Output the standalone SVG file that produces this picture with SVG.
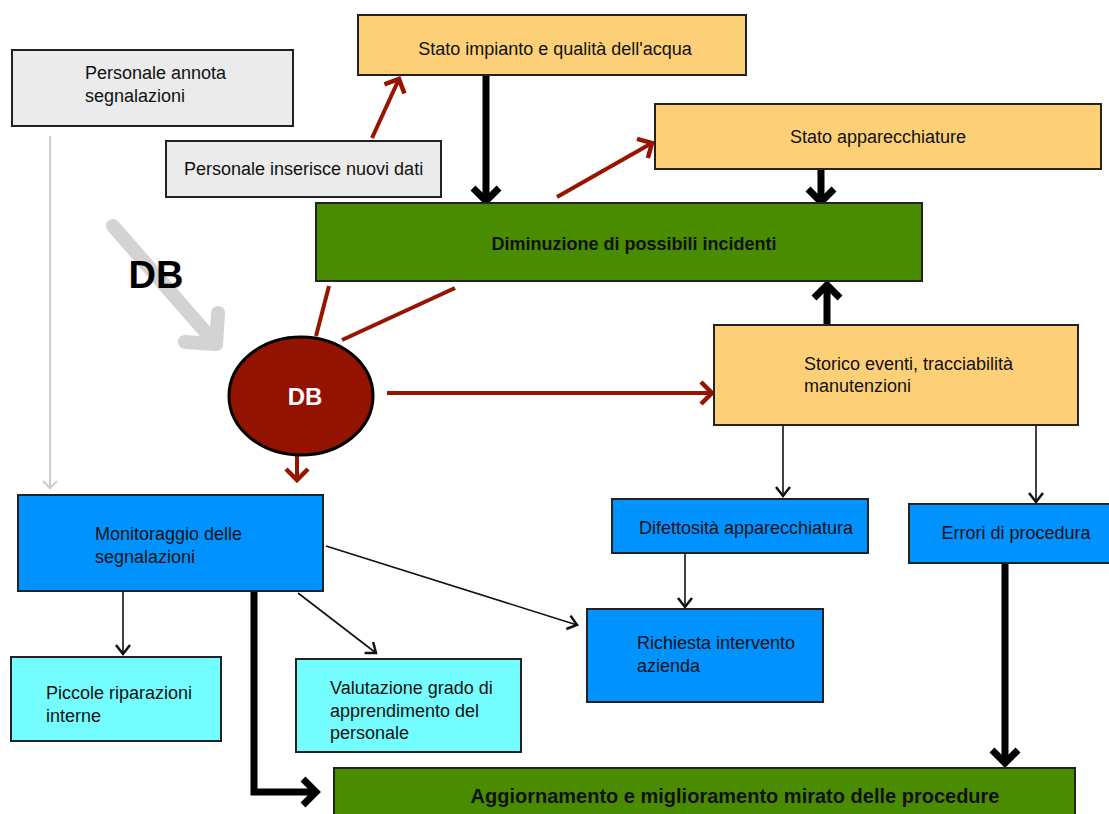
<svg xmlns="http://www.w3.org/2000/svg" width="1109" height="814" viewBox="0 0 1109 814">
<style>
.t{font-family:"Liberation Sans",Arial,sans-serif;font-size:18px;fill:#111}
.b{font-family:"Liberation Sans",Arial,sans-serif;font-size:18px;font-weight:bold;fill:#111}
.box{stroke:#222;stroke-width:2}
.gry{fill:#ebebeb}.org{fill:#fdd078}.grn{fill:#4a8c00}.blu{fill:#0092ff}.cyn{fill:#74feff}
.thin{stroke:#111;stroke-width:1.6;fill:none}
.thick{stroke:#000;stroke-width:7;fill:none}
.red{stroke:#961400;stroke-width:4;fill:none}
</style>
<defs>
<marker id="mThin" markerUnits="userSpaceOnUse" orient="auto" markerWidth="30" markerHeight="30" refX="0" refY="0" viewBox="-15 -15 30 30" overflow="visible"><path d="M-9,-7 L0,0 L-9,7" fill="none" stroke="#111" stroke-width="2.5"/></marker>
<marker id="mThick" markerUnits="userSpaceOnUse" orient="auto" markerWidth="40" markerHeight="40" refX="0" refY="0" viewBox="-20 -20 40 40" overflow="visible"><path d="M-13,-13 L0,0 L-13,13" fill="none" stroke="#000" stroke-width="7"/></marker>
<marker id="mRed" markerUnits="userSpaceOnUse" orient="auto" markerWidth="40" markerHeight="40" refX="0" refY="0" viewBox="-20 -20 40 40" overflow="visible"><path d="M-11,-11 L0,0 L-11,11" fill="none" stroke="#961400" stroke-width="4.5"/></marker>
<marker id="mGray" markerUnits="userSpaceOnUse" orient="auto" markerWidth="30" markerHeight="30" refX="0" refY="0" viewBox="-15 -15 30 30" overflow="visible"><path d="M-7,-7 L0,0 L-7,7" fill="none" stroke="#cccccc" stroke-width="2"/></marker>
<marker id="mGrayBig" markerUnits="userSpaceOnUse" orient="auto" markerWidth="60" markerHeight="60" refX="0" refY="0" viewBox="-30 -30 60 60" overflow="visible"><path d="M-22,-22 L0,0 L-22,22" fill="none" stroke="#d3d3d3" stroke-width="14" stroke-linejoin="round" stroke-linecap="round"/></marker>
</defs>

<g id="connectors">
<line x1="50" y1="136" x2="50" y2="488" stroke="#cccccc" stroke-width="2" marker-end="url(#mGray)"/>
<line x1="113" y1="226" x2="216" y2="344" stroke="#d3d3d3" stroke-width="14" stroke-linecap="round" marker-end="url(#mGrayBig)"/>
<line class="red" x1="372" y1="138" x2="399" y2="79" marker-end="url(#mRed)"/>
<line class="thick" x1="486" y1="74" x2="486" y2="201" marker-end="url(#mThick)"/>
<line class="red" x1="557" y1="197" x2="652" y2="143" marker-end="url(#mRed)"/>
<line class="thick" x1="821" y1="166" x2="821" y2="202" marker-end="url(#mThick)"/>
<line class="thick" x1="827" y1="327" x2="827" y2="285" marker-end="url(#mThick)"/>
<line class="red" x1="316" y1="336" x2="329" y2="286"/>
<line class="red" x1="342" y1="340" x2="455" y2="288"/>
<line class="red" x1="387" y1="393" x2="712" y2="393" marker-end="url(#mRed)"/>
<line class="red" x1="297" y1="456" x2="297" y2="480" marker-end="url(#mRed)"/>
<line class="thin" x1="783" y1="426" x2="783" y2="496" marker-end="url(#mThin)"/>
<line class="thin" x1="1036" y1="426" x2="1036" y2="502" marker-end="url(#mThin)"/>
<line class="thin" x1="685" y1="554" x2="685" y2="607" marker-end="url(#mThin)"/>
<line class="thick" x1="1005" y1="564" x2="1005" y2="763" marker-end="url(#mThick)"/>
<line class="thin" x1="123" y1="592" x2="123" y2="654" marker-end="url(#mThin)"/>
<line class="thin" x1="298" y1="593" x2="376" y2="653" marker-end="url(#mThin)"/>
<line class="thin" x1="326" y1="546" x2="577" y2="625" marker-end="url(#mThin)"/>
<polyline class="thick" points="254,589 254,792 316,792" marker-end="url(#mThick)"/>
</g>

<g id="lbl-db-big"><text x="156" y="288" text-anchor="middle" style="font-family:'Liberation Sans',Arial,sans-serif;font-size:38px;font-weight:bold;fill:#000">DB</text></g>

<g id="n-annota"><rect class="box gry" x="12" y="50" width="281" height="76"/><text class="t" x="85" y="79">Personale annota</text><text class="t" x="85" y="102">segnalazioni</text></g>
<g id="n-inserisce"><rect class="box gry" x="166" y="141" width="275" height="56"/><text class="t" x="184" y="175">Personale inserisce nuovi dati</text></g>
<g id="n-impianto"><rect class="box org" x="358" y="15" width="388" height="60"/><text class="t" x="555" y="55" text-anchor="middle">Stato impianto e qualità dell'acqua</text></g>
<g id="n-apparecchiature"><rect class="box org" x="655" y="104" width="446" height="65"/><text class="t" x="878" y="143" text-anchor="middle">Stato apparecchiature</text></g>
<g id="n-diminuzione"><rect class="box grn" x="316" y="203" width="606" height="78"/><text class="b" x="634" y="250" text-anchor="middle">Diminuzione di possibili incidenti</text></g>
<g id="n-storico"><rect class="box org" x="714" y="325" width="364" height="100"/><text class="t" x="804" y="370">Storico eventi, tracciabilità</text><text class="t" x="804" y="392">manutenzioni</text></g>
<g id="n-db"><ellipse cx="301" cy="396" rx="72" ry="59" fill="#931200" stroke="#000" stroke-width="3"/><text x="305" y="405" text-anchor="middle" style="font-family:'Liberation Sans',Arial,sans-serif;font-size:24px;font-weight:bold;fill:#fff">DB</text></g>
<g id="n-monitoraggio"><rect class="box blu" x="18" y="495" width="305" height="96"/><text class="t" x="95" y="540">Monitoraggio delle</text><text class="t" x="95" y="563">segnalazioni</text></g>
<g id="n-piccole"><rect class="box cyn" x="11" y="657" width="210" height="84"/><text class="t" x="46" y="699">Piccole riparazioni</text><text class="t" x="46" y="722">interne</text></g>
<g id="n-valutazione"><rect class="box cyn" x="296" y="659" width="225" height="93"/><text class="t" x="330" y="694">Valutazione grado di</text><text class="t" x="330" y="717">apprendimento del</text><text class="t" x="330" y="739">personale</text></g>
<g id="n-difettosita"><rect class="box blu" x="612" y="499" width="256" height="54"/><text class="t" x="639" y="534">Difettosità apparecchiatura</text></g>
<g id="n-errori"><rect class="box blu" x="909" y="504" width="210" height="59"/><text class="t" x="1016" y="539" text-anchor="middle">Errori di procedura</text></g>
<g id="n-richiesta"><rect class="box blu" x="587" y="609" width="236" height="93"/><text class="t" x="637" y="649">Richiesta intervento</text><text class="t" x="637" y="672">azienda</text></g>
<g id="n-aggiornamento"><rect class="box grn" x="334" y="768" width="741" height="60"/><text class="b" x="735" y="803" text-anchor="middle" style="font-size:20px">Aggiornamento e miglioramento mirato delle procedure</text></g>
</svg>
